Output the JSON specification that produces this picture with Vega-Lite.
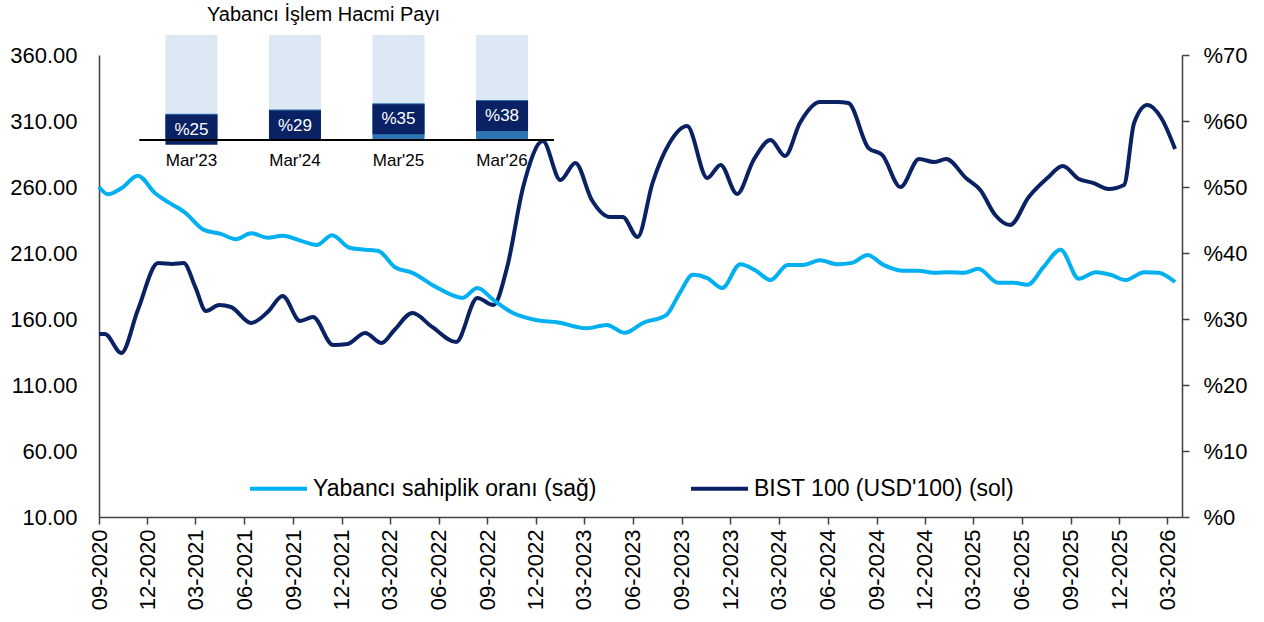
{
  "$schema": "https://vega.github.io/schema/vega-lite/v6.json",
  "width": 1083,
  "height": 462,
  "autosize": {"type": "none"},
  "padding": {"left": 99, "top": 55, "right": 82, "bottom": 105},
  "background": "white",
  "title": {"text": "Yabancı İşlem Hacmi Payı", "anchor": "start", "frame": "group", "dx": 108, "dy": 30, "offset": 20, "fontSize": 20, "fontWeight": "normal", "font": "Liberation Sans", "color": "#000000", "baseline": "bottom"},
  "config": {"view": {"stroke": null}, "font": "Liberation Sans", "axis": {"grid": false, "labelFont": "Liberation Sans"}, "legend": {"labelFont": "Liberation Sans"}},
  "datasets": {
    "bist": [
      {"tarih": "2020-09-01", "deger": 148.6},
      {"tarih": "2020-09-12", "deger": 148.6},
      {"tarih": "2020-10-13", "deger": 134.2},
      {"tarih": "2020-11-13", "deger": 166.8},
      {"tarih": "2020-12-21", "deger": 202.4},
      {"tarih": "2021-01-17", "deger": 201.7},
      {"tarih": "2021-02-07", "deger": 202.4},
      {"tarih": "2021-03-01", "deger": 184.2},
      {"tarih": "2021-03-21", "deger": 166.1},
      {"tarih": "2021-04-15", "deger": 170.6},
      {"tarih": "2021-05-07", "deger": 169.1},
      {"tarih": "2021-06-14", "deger": 157.0},
      {"tarih": "2021-07-15", "deger": 165.3},
      {"tarih": "2021-08-12", "deger": 177.4},
      {"tarih": "2021-09-14", "deger": 158.5},
      {"tarih": "2021-10-08", "deger": 161.5},
      {"tarih": "2021-11-15", "deger": 140.3},
      {"tarih": "2021-12-12", "deger": 141.1},
      {"tarih": "2022-01-14", "deger": 149.4},
      {"tarih": "2022-02-14", "deger": 141.8},
      {"tarih": "2022-03-10", "deger": 151.7},
      {"tarih": "2022-04-13", "deger": 164.5},
      {"tarih": "2022-05-20", "deger": 154.0},
      {"tarih": "2022-07-04", "deger": 142.6},
      {"tarih": "2022-08-13", "deger": 175.9},
      {"tarih": "2022-09-12", "deger": 170.6},
      {"tarih": "2022-10-08", "deger": 199.4},
      {"tarih": "2022-11-07", "deger": 260.0},
      {"tarih": "2022-12-14", "deger": 294.8},
      {"tarih": "2023-01-16", "deger": 265.3},
      {"tarih": "2023-02-13", "deger": 278.2},
      {"tarih": "2023-03-16", "deger": 250.2},
      {"tarih": "2023-04-19", "deger": 237.3},
      {"tarih": "2023-05-13", "deger": 237.3},
      {"tarih": "2023-06-10", "deger": 222.1},
      {"tarih": "2023-07-08", "deger": 263.0},
      {"tarih": "2023-08-09", "deger": 293.3},
      {"tarih": "2023-09-11", "deger": 306.2},
      {"tarih": "2023-10-19", "deger": 266.8},
      {"tarih": "2023-11-13", "deger": 276.7},
      {"tarih": "2023-12-14", "deger": 254.7},
      {"tarih": "2024-01-14", "deger": 280.5},
      {"tarih": "2024-02-15", "deger": 295.6},
      {"tarih": "2024-03-13", "deger": 283.5},
      {"tarih": "2024-04-10", "deger": 308.5},
      {"tarih": "2024-05-18", "deger": 324.4},
      {"tarih": "2024-06-19", "deger": 324.4},
      {"tarih": "2024-07-10", "deger": 323.6},
      {"tarih": "2024-08-17", "deger": 289.5},
      {"tarih": "2024-09-12", "deger": 284.2},
      {"tarih": "2024-10-16", "deger": 260.0},
      {"tarih": "2024-11-20", "deger": 281.2},
      {"tarih": "2024-12-18", "deger": 278.9},
      {"tarih": "2025-01-10", "deger": 281.2},
      {"tarih": "2025-02-16", "deger": 266.8},
      {"tarih": "2025-03-15", "deger": 257.7},
      {"tarih": "2025-04-12", "deger": 238.8},
      {"tarih": "2025-05-10", "deger": 231.2},
      {"tarih": "2025-06-14", "deger": 252.4},
      {"tarih": "2025-07-19", "deger": 266.8},
      {"tarih": "2025-08-17", "deger": 275.9},
      {"tarih": "2025-09-16", "deger": 266.1},
      {"tarih": "2025-10-14", "deger": 263.0},
      {"tarih": "2025-11-11", "deger": 258.5},
      {"tarih": "2025-12-10", "deger": 261.5},
      {"tarih": "2025-12-29", "deger": 308.5},
      {"tarih": "2026-01-23", "deger": 322.1},
      {"tarih": "2026-02-18", "deger": 312.3},
      {"tarih": "2026-03-16", "deger": 288.8}
    ],
    "yabanci": [
      {"tarih": "2020-09-01", "oran": 50.0},
      {"tarih": "2020-09-18", "oran": 48.9},
      {"tarih": "2020-10-13", "oran": 49.8},
      {"tarih": "2020-11-13", "oran": 51.7},
      {"tarih": "2020-12-15", "oran": 49.1},
      {"tarih": "2021-01-09", "oran": 47.7},
      {"tarih": "2021-02-10", "oran": 46.1},
      {"tarih": "2021-03-17", "oran": 43.5},
      {"tarih": "2021-04-18", "oran": 42.9},
      {"tarih": "2021-05-16", "oran": 42.1},
      {"tarih": "2021-06-14", "oran": 43.0},
      {"tarih": "2021-07-15", "oran": 42.3},
      {"tarih": "2021-08-12", "oran": 42.6},
      {"tarih": "2021-09-17", "oran": 41.8},
      {"tarih": "2021-10-15", "oran": 41.2},
      {"tarih": "2021-11-13", "oran": 42.7},
      {"tarih": "2021-12-16", "oran": 40.8},
      {"tarih": "2022-01-14", "oran": 40.5},
      {"tarih": "2022-02-08", "oran": 40.3},
      {"tarih": "2022-03-12", "oran": 37.8},
      {"tarih": "2022-04-13", "oran": 37.0},
      {"tarih": "2022-05-28", "oran": 34.8},
      {"tarih": "2022-07-16", "oran": 33.2},
      {"tarih": "2022-08-13", "oran": 34.7},
      {"tarih": "2022-09-12", "oran": 32.9},
      {"tarih": "2022-10-19", "oran": 30.9},
      {"tarih": "2022-12-03", "oran": 29.8},
      {"tarih": "2023-01-10", "oran": 29.5},
      {"tarih": "2023-03-06", "oran": 28.6},
      {"tarih": "2023-04-13", "oran": 29.1},
      {"tarih": "2023-05-17", "oran": 27.9},
      {"tarih": "2023-06-20", "oran": 29.4},
      {"tarih": "2023-08-03", "oran": 30.6},
      {"tarih": "2023-08-28", "oran": 33.9},
      {"tarih": "2023-09-22", "oran": 36.7},
      {"tarih": "2023-10-19", "oran": 36.2},
      {"tarih": "2023-11-16", "oran": 34.7},
      {"tarih": "2023-12-20", "oran": 38.3},
      {"tarih": "2024-01-17", "oran": 37.4},
      {"tarih": "2024-02-15", "oran": 35.9},
      {"tarih": "2024-03-18", "oran": 38.2},
      {"tarih": "2024-04-16", "oran": 38.2},
      {"tarih": "2024-05-18", "oran": 38.9},
      {"tarih": "2024-06-19", "oran": 38.3},
      {"tarih": "2024-07-17", "oran": 38.5},
      {"tarih": "2024-08-15", "oran": 39.7},
      {"tarih": "2024-09-14", "oran": 38.2},
      {"tarih": "2024-10-22", "oran": 37.3},
      {"tarih": "2024-11-18", "oran": 37.3},
      {"tarih": "2024-12-18", "oran": 37.0},
      {"tarih": "2025-01-13", "oran": 37.1},
      {"tarih": "2025-02-13", "oran": 37.0},
      {"tarih": "2025-03-11", "oran": 37.6},
      {"tarih": "2025-04-18", "oran": 35.5},
      {"tarih": "2025-05-16", "oran": 35.5},
      {"tarih": "2025-06-12", "oran": 35.2},
      {"tarih": "2025-07-12", "oran": 37.9},
      {"tarih": "2025-08-13", "oran": 40.5},
      {"tarih": "2025-09-16", "oran": 36.1},
      {"tarih": "2025-10-18", "oran": 37.1},
      {"tarih": "2025-11-15", "oran": 36.7},
      {"tarih": "2025-12-13", "oran": 35.9},
      {"tarih": "2026-01-17", "oran": 37.1},
      {"tarih": "2026-02-13", "oran": 37.0},
      {"tarih": "2026-03-16", "oran": 35.6}
    ],
    "islem": [
      {"sira": 1, "donem": "Mar'23", "pay": 25, "etiket": "%25"},
      {"sira": 2, "donem": "Mar'24", "pay": 29, "etiket": "%29"},
      {"sira": 3, "donem": "Mar'25", "pay": 35, "etiket": "%35"},
      {"sira": 4, "donem": "Mar'26", "pay": 38, "etiket": "%38"}
    ]
  },
  "layer": [
    {
      "data": {"name": "bist"},
      "mark": {"type": "line", "interpolate": "monotone", "strokeWidth": 4, "clip": false},
      "encoding": {
        "x": {
          "field": "tarih", "type": "temporal",
          "scale": {"type": "utc", "domain": [{"year": 2020, "month": 9, "date": 1, "utc": true}, {"year": 2026, "month": 3, "date": 29, "utc": true}], "nice": false},
          "axis": {
            "title": null, "labelExpr": "utcFormat(datum.value, '%m-%Y')", "labelAngle": 270, "labelFontSize": 22, "labelColor": "#000",
            "labelPadding": 5, "tickSize": 7, "tickColor": "#404040", "tickWidth": 1.5, "domainColor": "#404040", "domainWidth": 1.5,
            "labelOverlap": false, "labelFlush": false, "labelBound": false, "grid": false,
            "values": [
              {"year": 2020, "month": 9, "date": 1, "utc": true}, {"year": 2020, "month": 12, "date": 1, "utc": true},
              {"year": 2021, "month": 3, "date": 1, "utc": true}, {"year": 2021, "month": 6, "date": 1, "utc": true},
              {"year": 2021, "month": 9, "date": 1, "utc": true}, {"year": 2021, "month": 12, "date": 1, "utc": true},
              {"year": 2022, "month": 3, "date": 1, "utc": true}, {"year": 2022, "month": 6, "date": 1, "utc": true},
              {"year": 2022, "month": 9, "date": 1, "utc": true}, {"year": 2022, "month": 12, "date": 1, "utc": true},
              {"year": 2023, "month": 3, "date": 1, "utc": true}, {"year": 2023, "month": 6, "date": 1, "utc": true},
              {"year": 2023, "month": 9, "date": 1, "utc": true}, {"year": 2023, "month": 12, "date": 1, "utc": true},
              {"year": 2024, "month": 3, "date": 1, "utc": true}, {"year": 2024, "month": 6, "date": 1, "utc": true},
              {"year": 2024, "month": 9, "date": 1, "utc": true}, {"year": 2024, "month": 12, "date": 1, "utc": true},
              {"year": 2025, "month": 3, "date": 1, "utc": true}, {"year": 2025, "month": 6, "date": 1, "utc": true},
              {"year": 2025, "month": 9, "date": 1, "utc": true}, {"year": 2025, "month": 12, "date": 1, "utc": true},
              {"year": 2026, "month": 3, "date": 1, "utc": true}
            ]
          }
        },
        "y": {
          "field": "deger", "type": "quantitative",
          "scale": {"domain": [10, 360], "nice": false, "zero": false},
          "axis": {"orient": "left", "title": null, "values": [10, 60, 110, 160, 210, 260, 310, 360], "format": ".2f", "labelFontSize": 22, "labelColor": "#000",
                   "ticks": false, "tickSize": 0, "labelPadding": 22, "domainColor": "#404040", "domainWidth": 1.5, "grid": false, "labelFlush": false, "labelBound": false}
        },
        "color": {
          "datum": "BIST 100 (USD'100) (sol)", "type": "nominal",
          "scale": {"domain": ["Yabancı sahiplik oranı (sağ)", "BIST 100 (USD'100) (sol)"], "range": ["#00B0F0", "#0A2263"]},
          "legend": {
            "orient": "none", "legendX": 149, "legendY": 403, "direction": "horizontal", "title": null,
            "symbolType": "stroke", "symbolSize": 3249, "symbolStrokeWidth": 4, "labelFontSize": 23, "labelColor": "#000",
            "labelOffset": 4, "columnPadding": 86, "padding": 0, "labelLimit": 0,
            "encode": {"symbols": {"update": {"stroke": {"signal": "indexOf(datum.value, 'BIST') === 0 ? '#0A2263' : '#1F7BC9'"}}}}
          }
        }
      }
    },
    {
      "data": {"name": "yabanci"},
      "mark": {"type": "line", "interpolate": "monotone", "strokeWidth": 4, "clip": false},
      "encoding": {
        "x": {
          "field": "tarih", "type": "temporal",
          "scale": {"type": "utc", "domain": [{"year": 2020, "month": 9, "date": 1, "utc": true}, {"year": 2026, "month": 3, "date": 29, "utc": true}], "nice": false},
          "axis": null
        },
        "y": {
          "field": "oran", "type": "quantitative",
          "scale": {"domain": [0, 70], "nice": false, "zero": false},
          "axis": {"orient": "right", "title": null, "values": [0, 10, 20, 30, 40, 50, 60, 70], "labelExpr": "'%' + datum.value", "labelFontSize": 22, "labelColor": "#000",
                   "tickSize": 7, "tickColor": "#404040", "tickWidth": 1.5, "labelPadding": 14, "domainColor": "#404040", "domainWidth": 1.5, "grid": false, "labelFlush": false, "labelBound": false}
        },
        "color": {
          "datum": "Yabancı sahiplik oranı (sağ)", "type": "nominal",
          "legend": {
            "orient": "none", "legendX": 149, "legendY": 403, "direction": "horizontal", "title": null,
            "symbolType": "stroke", "symbolSize": 3249, "symbolStrokeWidth": 4, "labelFontSize": 23, "labelColor": "#000",
            "labelOffset": 4, "columnPadding": 86, "padding": 0, "labelLimit": 0,
            "encode": {"symbols": {"update": {"stroke": {"signal": "indexOf(datum.value, 'BIST') === 0 ? '#0A2263' : '#1F7BC9'"}}}}
          }
        }
      }
    },
    {
      "data": {"name": "islem"},
      "encoding": {
        "x": {"field": "sira", "type": "quantitative", "scale": {"domain": [0.1555, 10.519], "nice": false, "zero": false}, "axis": null}
      },
      "layer": [
        {
          "mark": {"type": "bar", "size": 52, "color": "#DDE8F5", "orient": "vertical"},
          "encoding": {
            "y": {"datum": 100, "type": "quantitative", "scale": {"domain": [-359.05, 80.95], "nice": false, "zero": false}, "axis": null},
            "y2": {"datum": 0}
          }
        },
        {
          "mark": {"type": "bar", "size": 52, "color": "#2E75B6", "orient": "vertical"},
          "encoding": {"y": {"field": "pay", "type": "quantitative"}, "y2": {"datum": 0}}
        },
        {
          "mark": {"type": "point", "shape": "M-1,-0.577L1,-0.577L1,0.577L-1,0.577Z", "size": 2704, "filled": true, "color": "#0A2263", "opacity": 1, "strokeWidth": 0, "yOffset": 16},
          "encoding": {"y": {"field": "pay", "type": "quantitative"}}
        },
        {
          "mark": {"type": "text", "color": "#FFFFFF", "fontSize": 17, "baseline": "middle", "align": "center", "yOffset": 16},
          "encoding": {"y": {"field": "pay", "type": "quantitative"}, "text": {"field": "etiket"}}
        },
        {
          "mark": {"type": "text", "color": "#000000", "fontSize": 17, "baseline": "middle", "align": "center", "dy": 21},
          "encoding": {"y": {"datum": 0, "type": "quantitative"}, "text": {"field": "donem"}}
        },
        {
          "mark": {"type": "rule", "color": "#000000", "strokeWidth": 1.5},
          "encoding": {"x": {"datum": 0.5, "type": "quantitative"}, "x2": {"datum": 4.5}, "y": {"datum": 0, "type": "quantitative"}}
        }
      ]
    }
  ],
  "resolve": {"scale": {"x": "independent", "y": "independent"}}
}
